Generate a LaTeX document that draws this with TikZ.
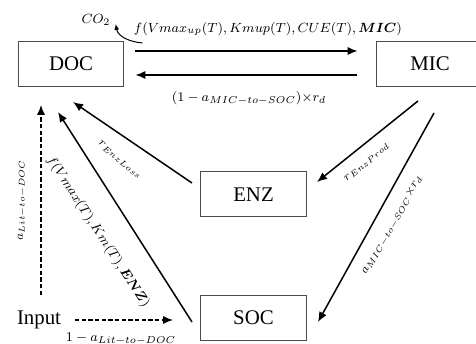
\documentclass[tikz,border=0pt]{standalone}
\usepackage{fontspec}
\setmainfont{Liberation Serif}
\usepackage{bm}
\usetikzlibrary{arrows.meta,calc}
\newcommand{\sub}[3]{#1{-}#2{-}#3}
\tikzset{
  pool/.style={draw=black!70, line width=0.6pt, minimum width=63.6pt,
    minimum height=27pt, font=\fontsize{12.5}{15}\selectfont},
  flow/.style={line width=0.9pt, -{Latex[length=6pt,width=5pt]}},
  litflow/.style={flow, dash pattern=on 2.6pt off 1.4pt},
  rate/.style={inner sep=0pt, font=\fontsize{8.2}{10}\selectfont},
  minor/.style={rate, font=\fontsize{6.8}{8}\selectfont}
}
\begin{document}
\begin{tikzpicture}[x=0.6pt, y=-0.6pt]
  \useasboundingbox (0,0) rectangle (476,344);
  % pools
  \node[pool] (DOC) at (71,64) {DOC};
  \node[pool] (MIC) at (430,64) {MIC};
  \node[pool] (ENZ) at (253.5,194.5) {ENZ};
  \node[pool] (SOC) at (253.5,318) {SOC};
  \node[font=\fontsize{12.5}{15}\selectfont] (Input) at (39,320) {Input};
  \node[rate] (co2) at (96,20) {$CO_2$};
  \coordinate (resp) at ($(DOC.east)+(18,-21)$);
  % uptake and death
  \draw[flow] ($(DOC.east)+(11,-13)$) -- ($(MIC.west)+(-19,-13)$);
  \draw[flow] ($(MIC.west)+(-19,11)$) -- ($(DOC.east)+(11,11)$);
  \draw[line width=0.6pt, -{Latex[length=3.5pt,width=3pt]}] (resp)
    to[out=175,in=-80] ($(co2.east)+(5,4)$);
  % enzymes
  \draw[flow] ($(MIC.south)+(-12,14)$) -- ($(ENZ.east)+(10,-12.5)$);
  \draw[flow] ($(ENZ.west)+(-8,-11.5)$) -- ($(DOC.south)+(2,15)$);
  % soc
  \draw[flow] ($(MIC.south)+(4,26)$) -- ($(SOC.east)+(11,4)$);
  \draw[flow] ($(SOC.west)+(-8,4)$) -- ($(DOC.south)+(-13,25)$);
  % litter input
  \draw[litflow] ($(Input)+(2,-25)$) -- ($(DOC.south)+(-30,18)$);
  \draw[litflow] ($(Input)+(36,0)$) -- ($(SOC.west)+(-27,2)$);
  % rates
  \node[rate] at (268,29) {$f(Vmax_{up}(T),Kmup(T),CUE(T),\bm{MIC})$};
  \node[rate] at (249,98) {$(1-a_{\sub{MIC}{to}{SOC}}){\times}r_d$};
  \node[minor, rotate=-40] at (120,160) {$r_{EnzLoss}$};
  \node[minor, rotate=40] at (367,162) {$r_{EnzProd}$};
  \node[minor, rotate=60] at (392,225) {$a_{\sub{MIC}{to}{SOC}}{\times}r_d$};
  \node[rate, rotate=-57] at (98,232) {$f(Vmax(T),Km(T),\bm{ENZ})$};
  \node[minor, rotate=90] at (22,200) {$a_{\sub{Lit}{to}{DOC}}$};
  \node[rate] at (121,339) {$1-a_{\sub{Lit}{to}{DOC}}$};
\end{tikzpicture}
\end{document}
